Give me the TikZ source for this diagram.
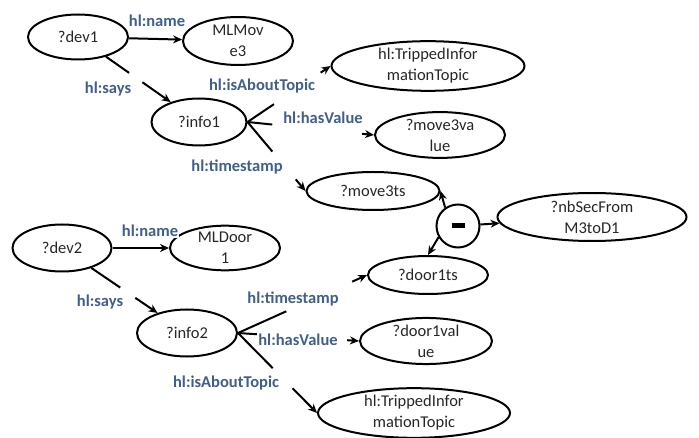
\documentclass[tikz,border=0pt]{standalone}
\usepackage{fontspec}
\setmainfont{Carlito}
\usetikzlibrary{shapes.geometric,arrows.meta}
\definecolor{kantenblau}{RGB}{65,95,140}
\begin{document}
\begin{tikzpicture}[x=1pt,y=-1pt,
    knoten/.style={ellipse,draw,line width=2pt,inner sep=0pt,align=center,
        text=black!85,font=\fontsize{16.5}{21}\selectfont},
    kante/.style={line width=2pt,-{Stealth[length=9pt,width=8pt]}},
    luecke/.style={fill=white,sloped,inner sep=0pt,minimum height=7pt},
    beschriftung/.style={fill=white,inner sep=1pt,text=kantenblau,
        font=\bfseries\fontsize{16.5}{20}\selectfont}]

    \useasboundingbox (0,0) rectangle (699,438);

    % Knoten oben
    \node[knoten,minimum width=100,minimum height=45] (dev1) at (78,37) {?dev1};
    \node[knoten,minimum width=110,minimum height=48] (mlmove3) at (238,41) {MLMov\\e3};
    \node[knoten,minimum width=193,minimum height=45] (topic1) at (428,66) {hl:TrippedInfor\\mationTopic};
    \node[knoten,minimum width=95,minimum height=47] (info1) at (199,122) {?info1};
    \node[knoten,minimum width=130,minimum height=44] (move3value) at (440,135) {?move3va\\lue};
    \node[knoten,minimum width=133,minimum height=38] (move3ts) at (373,191) {?move3ts};

    % Differenz
    \node[circle,draw,line width=2pt,minimum size=43,inner sep=0pt] (minus) at (458,226) {\rule{13pt}{5pt}};
    \node[knoten,minimum width=189,minimum height=48] (nbsec) at (592,217) {?nbSecFrom\\M3toD1};

    % Knoten unten
    \node[knoten,minimum width=120,minimum height=38] (door1ts) at (428,275) {?door1ts};
    \node[knoten,minimum width=132,minimum height=38] (door1value) at (426,341) {?door1val\\ue};
    \node[knoten,minimum width=192,minimum height=46] (topic2) at (414,413) {hl:TrippedInfor\\mationTopic};
    \node[knoten,minimum width=99,minimum height=47] (dev2) at (62,248) {?dev2};
    \node[knoten,minimum width=110,minimum height=43] (mldoor1) at (225,248) {MLDoor\\1};
    \node[knoten,minimum width=100,minimum height=47] (info2) at (187,333) {?info2};

    % Kanten oben
    \draw[kante] (dev1) -- (mlmove3);
    \draw[kante] (dev1) -- node[luecke,pos=.46,minimum width=16] (g1) {} (info1);
    \draw[kante] (info1.east) -- node[luecke,pos=.6,minimum width=56] (g2) {} (topic1.west);
    \draw[kante] (info1.east) -- node[luecke,pos=.55,minimum width=90] (g3) {} (move3value.west);
    \draw[kante] (info1.east) -- node[luecke,pos=.63,minimum width=36] (g4) {} (move3ts.west);

    % Kanten Differenz
    \draw[kante] (minus.125) -- (move3ts.east);
    \draw[kante] (minus.210) -- (door1ts.north);
    \draw[kante] (minus) -- (nbsec);

    % Kanten unten
    \draw[kante] (dev2) -- (mldoor1);
    \draw[kante] (dev2) -- node[luecke,pos=.55,minimum width=18] (g5) {} (info2);
    \draw[kante] (info2.east) -- node[luecke,pos=.63,minimum width=72] (g6) {} (door1ts.west);
    \draw[kante] (info2.east) -- node[luecke,pos=.55,minimum width=85] (g7) {} (door1value.west);
    \draw[kante] (info2.east) -- node[luecke,pos=.565,minimum width=28] (g8) {} (topic2.west);

    % Beschriftungen
    \node[beschriftung] (name1) at (157,21) {hl:name};
    \node[beschriftung] (says1) at (108,89) {hl:says};
    \node[beschriftung] (about1) at (262,86) {hl:isAboutTopic};
    \node[beschriftung] (value1) at (323,118) {hl:hasValue};
    \node[beschriftung] (stamp1) at (237,167) {hl:timestamp};
    \node[beschriftung] (name2) at (150,231) {hl:name};
    \node[beschriftung] (says2) at (100,302) {hl:says};
    \node[beschriftung] (stamp2) at (293,299) {hl:timestamp};
    \node[beschriftung] (value2) at (298,340) {hl:hasValue};
    \node[beschriftung] (about2) at (226,383) {hl:isAboutTopic};

\end{tikzpicture}
\end{document}
